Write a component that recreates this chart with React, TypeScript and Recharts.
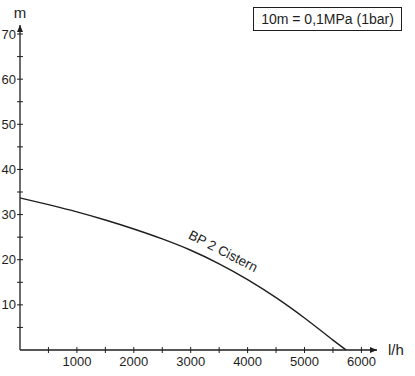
import React from "react";
import { LineChart, Line, XAxis, YAxis, ReferenceDot } from "recharts";

const flow = [0, 500, 1000, 1500, 2000, 2500, 3000, 3500, 4000, 4500, 5000, 5500, 5730];
const head = [33.7, 32.2, 30.6, 28.8, 26.8, 24.6, 22.1, 19.1, 15.6, 11.6, 7.1, 2.2, 0];

const xTicks = [500, 1000, 1500, 2000, 2500, 3000, 3500, 4000, 4500, 5000, 5500, 6000];
const yTicks = [5, 10, 15, 20, 25, 30, 35, 40, 45, 50, 55, 60, 65, 70];

const X_MAX = 6274;
const Y_MAX = 72;

const data = flow.map((q, i) => ({ q, h: head[i] }));

const FONT = "'Liberation Sans', Arial, sans-serif";
const INK = "#1e1e1e";

const XTick = (props: any) => {
  const { x, y, payload } = props;
  const v = payload.value;
  return (
    <g>
      <line x1={x} x2={x} y1={y - 3} y2={y + 3} stroke={INK} strokeWidth={1} />
      {v % 1000 === 0 && (
        <text x={x} y={y + 16} textAnchor="middle" fontSize={13} fill={INK} fontFamily={FONT}>
          {v}
        </text>
      )}
    </g>
  );
};

const YTick = (props: any) => {
  const { x, y, payload } = props;
  const v = payload.value;
  return (
    <g>
      <line x1={x - 3} x2={x + 3} y1={y} y2={y} stroke={INK} strokeWidth={1} />
      {v % 10 === 0 && (
        <text x={x - 4} y={y + 4.5} textAnchor="end" fontSize={13} fill={INK} fontFamily={FONT}>
          {v}
        </text>
      )}
    </g>
  );
};

export default function App() {
  return (
    <div style={{ position: "absolute", left: 0, top: 0, width: 415, height: 376, background: "#fff" }}>
      <LineChart
        width={415}
        height={376}
        data={data}
        margin={{ top: 25, right: 38, bottom: 0, left: 0 }}
      >
        <XAxis
          dataKey="q"
          type="number"
          domain={[0, X_MAX]}
          ticks={xTicks}
          interval={0}
          height={26}
          tickSize={0}
          tickMargin={0}
          tickLine={false}
          axisLine={{ stroke: INK, strokeWidth: 1.3 }}
          tick={<XTick />}
        />
        <YAxis
          type="number"
          domain={[0, Y_MAX]}
          ticks={yTicks}
          interval={0}
          width={20}
          tickSize={0}
          tickMargin={0}
          tickLine={false}
          axisLine={{ stroke: INK, strokeWidth: 1.3 }}
          tick={<YTick />}
        />
        <Line
          dataKey="h"
          type="monotone"
          stroke={INK}
          strokeWidth={1.4}
          dot={false}
          isAnimationActive={false}
        />
        <ReferenceDot
          x={X_MAX}
          y={0}
          ifOverflow="visible"
          shape={(p: any) => (
            <g>
              <path d={`M${p.cx} ${p.cy} L${p.cx - 7} ${p.cy - 3} L${p.cx - 7} ${p.cy + 3} Z`} fill={INK} />
              <text x={p.cx + 11} y={p.cy + 5} fontSize={15} fill={INK} fontFamily={FONT}>
                l/h
              </text>
            </g>
          )}
        />
        <ReferenceDot
          x={0}
          y={Y_MAX}
          ifOverflow="visible"
          shape={(p: any) => (
            <g>
              <path d={`M${p.cx} ${p.cy} L${p.cx - 3} ${p.cy + 7} L${p.cx + 3} ${p.cy + 7} Z`} fill={INK} />
              <text x={p.cx} y={p.cy - 7} textAnchor="middle" fontSize={15} fill={INK} fontFamily={FONT}>
                m
              </text>
            </g>
          )}
        />
        <ReferenceDot
          x={3570}
          y={21.9}
          ifOverflow="visible"
          shape={(p: any) => (
            <text
              x={p.cx}
              y={p.cy}
              textAnchor="middle"
              dominantBaseline="central"
              fontSize={13.5}
              fill={INK}
              fontFamily={FONT}
              transform={`rotate(27 ${p.cx} ${p.cy})`}
            >
              BP 2 Cistern
            </text>
          )}
        />
      </LineChart>
      <div
        style={{
          position: "absolute",
          left: 253,
          top: 7,
          width: 147,
          height: 22,
          border: `1px solid ${INK}`,
          fontFamily: FONT,
          fontSize: 14,
          color: INK,
          lineHeight: "22px",
          textAlign: "center",
        }}
      >
        10m = 0,1MPa (1bar)
      </div>
    </div>
  );
}
